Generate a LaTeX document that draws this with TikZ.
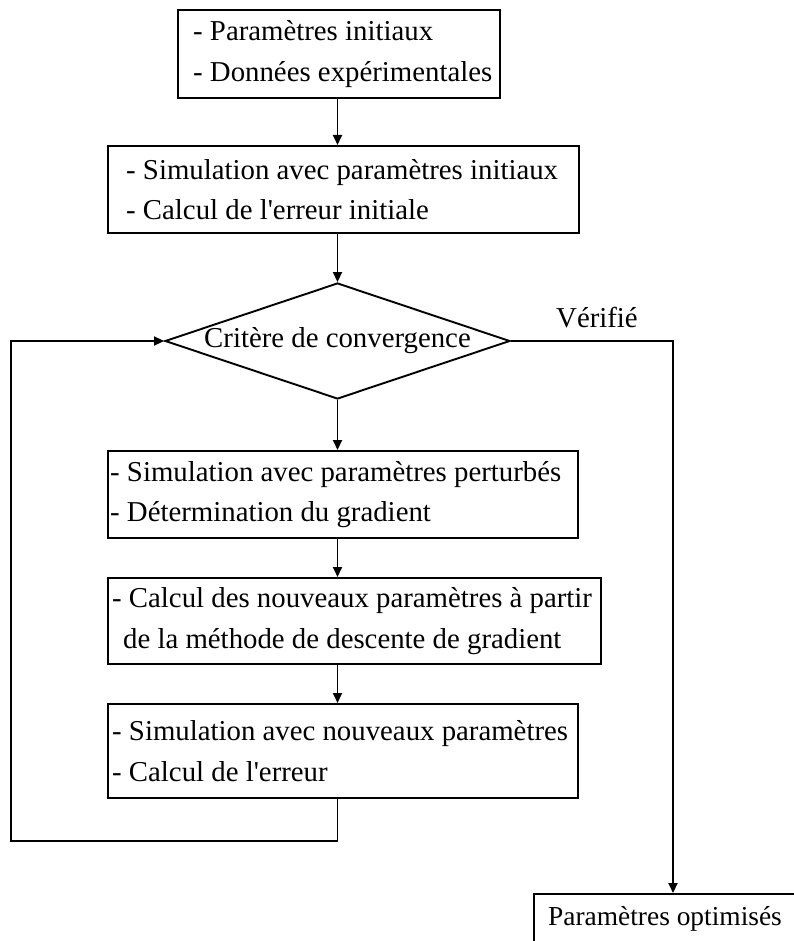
\documentclass[tikz,border=0pt]{standalone}
\usepackage{fontspec}
\setmainfont{Liberation Serif}
\usetikzlibrary{shapes.geometric,arrows.meta,calc}
\newcommand{\fsz}{\fontsize{28.8}{40.5}\selectfont}
\begin{document}
\begin{tikzpicture}[x=1pt,y=-1pt,
  box/.style={draw,line width=1.9pt,anchor=north west,inner sep=0pt},
  txt/.style={font=\fsz,align=left,inner sep=0pt,anchor=west},
  lab/.style={font=\fsz,inner sep=0pt},
  arr/.style={line width=1.9pt,-{Triangle[length=10pt,width=9pt]}},
  decision/.style={diamond,draw,line width=1.9pt,aspect=2.97,minimum width=345pt,minimum height=116pt,inner sep=0pt,font=\fsz}]
\useasboundingbox (0,0) rectangle (793,941);
\fill[white] (0,0) rectangle (793,941);
% boxes
\node[box,minimum width=322pt,minimum height=88pt] (b1) at (177,9) {};
\node[txt] (t1) at ($(b1.west)+(16,0)$) {- Paramètres initiaux\\- Données expérimentales};
\node[box,minimum width=471pt,minimum height=87pt] (b2) at (107,145) {};
\node[txt] (t2) at ($(b2.west)+(19,0)$) {- Simulation avec paramètres initiaux\\- Calcul de l\textquotesingle erreur initiale};
\node[decision] (d) at (337.5,341) {Critère de convergence};
\node[box,minimum width=470pt,minimum height=87pt] (b3) at (107,450) {};
\node[txt] (t3) at ($(b3.west)+(3,0)$) {- Simulation avec paramètres perturbés\\- Détermination du gradient};
\node[box,minimum width=493pt,minimum height=86pt] (b4) at (107,577) {};
\node[txt] (t4) at ($(b4.west)+(5,0)$) {- Calcul des nouveaux paramètres à partir\\\hspace*{11pt}de la méthode de descente de gradient};
\node[box,minimum width=470pt,minimum height=94pt] (b5) at (107,703) {};
\node[txt] (t5) at ($(b5.west)+(5,0)$) {- Simulation avec nouveaux paramètres\\- Calcul de l\textquotesingle erreur};
\node[box,minimum width=300pt,minimum height=60pt] (r) at (533,893) {};
\node[lab,anchor=base west,font=\fontsize{27.4}{36}\selectfont] (tr) at (548,925) {Paramètres optimisés};
\node[lab,anchor=base west] (v) at (556,327) {Vérifié};
% connectors
\draw[arr] (b1.south -| d.north) -- (b2.north -| d.north);
\draw[arr] (b2.south -| d.north) -- (d.north);
\draw[arr] (d.south) -- (b3.north -| d.south);
\draw[arr] (b3.south -| d.south) -- (b4.north -| d.south);
\draw[arr] (b4.south -| d.south) -- (b5.north -| d.south);
\coordinate (lb) at (11,841);
\draw[arr] (b5.south -| d.south) |- (lb) |- (d.west);
\coordinate (rt) at ($(r.north west)+(140,0)$);
\draw[arr] (d.east) -| (rt);
\end{tikzpicture}
\end{document}
